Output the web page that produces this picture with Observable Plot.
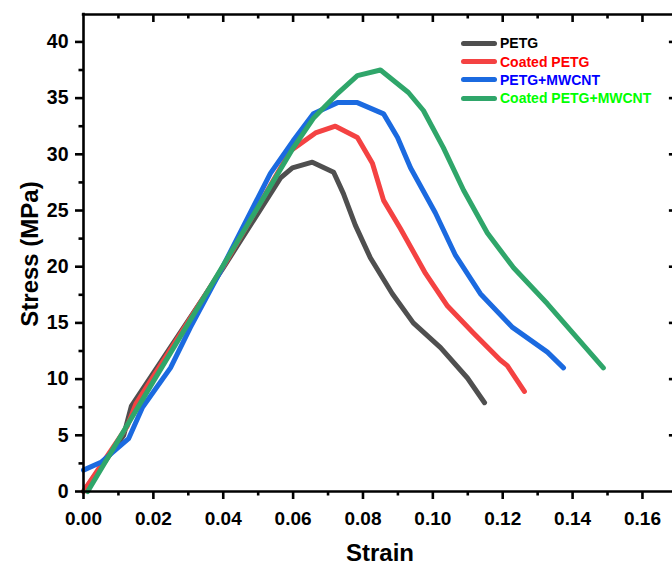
<!DOCTYPE html>
<html>
<head>
<meta charset="utf-8">
<script src="https://cdn.jsdelivr.net/npm/d3@7"></script>
<script src="https://cdn.jsdelivr.net/npm/@observablehq/plot@0.6"></script>
<style>
  body { margin: 0; background: #fff; }
  #wrap { position: relative; width: 672px; height: 565px; overflow: hidden; font-family: "Liberation Sans", Arial, sans-serif; font-weight: bold; }
  .title { position: absolute; font-size: 24px; font-weight: bold; color: #000; white-space: nowrap; }
  #legend { position: absolute; left: 461px; top: 34px; }
  .row { display: flex; align-items: center; height: 18.4px; }
  .sw { width: 36px; height: 5px; border-radius: 3px; margin-right: 3px; }
  .lab { font-size: 14px; font-weight: bold; line-height: 14px; }
</style>
</head>
<body>
<div id="wrap"></div>
<script>
// ---- data ----
const seriesNames = ["PETG", "Coated PETG", "PETG+MWCNT", "Coated PETG+MWCNT"];
const lineColors = ["#4f4f4f", "#f44242", "#1b6ae0", "#2fa66a"];
const textColors = ["#000000", "#ff0000", "#0000ff", "#00ff00"];

const strainPETG = [0, 0.0115, 0.0137, 0.0400, 0.0564, 0.0598, 0.0655, 0.0716, 0.0744, 0.0778, 0.0821, 0.0884, 0.0944, 0.1022, 0.1099, 0.1148];
const stressPETG = [0, 5.0, 7.6, 19.9, 27.9, 28.8, 29.3, 28.4, 26.5, 23.7, 20.8, 17.6, 15.0, 12.8, 10.1, 7.9];

const strainCoated = [0, 0.0125, 0.0150, 0.0400, 0.0592, 0.0664, 0.0721, 0.0784, 0.0827, 0.0859, 0.0907, 0.0979, 0.1042, 0.1116, 0.1193, 0.1213, 0.1262];
const stressCoated = [0, 5.8, 7.8, 20.0, 30.3, 31.9, 32.5, 31.5, 29.2, 25.9, 23.4, 19.4, 16.5, 14.1, 11.7, 11.2, 8.9];

const strainMWCNT = [0, 0.0050, 0.0129, 0.0169, 0.0249, 0.0306, 0.0392, 0.0535, 0.0600, 0.0658, 0.0727, 0.0784, 0.0859, 0.0899, 0.0936, 0.1007, 0.1065, 0.1136, 0.1228, 0.1328, 0.1374];
const stressMWCNT = [1.9, 2.6, 4.7, 7.5, 11.0, 14.6, 19.6, 28.3, 31.2, 33.6, 34.6, 34.6, 33.6, 31.5, 28.8, 24.8, 21.0, 17.6, 14.6, 12.4, 11.0];

const strainCoatedMWCNT = [0.0012, 0.0200, 0.0392, 0.0601, 0.0658, 0.0727, 0.0784, 0.0850, 0.0930, 0.0973, 0.1030, 0.1088, 0.1156, 0.1231, 0.1328, 0.1488];
const stressCoatedMWCNT = [0, 9.8, 19.7, 30.6, 33.2, 35.4, 37.0, 37.5, 35.5, 33.9, 30.6, 26.8, 23.0, 19.9, 16.7, 11.0];

const xMajorTicks = [0, 0.02, 0.04, 0.06, 0.08, 0.10, 0.12, 0.14, 0.16];
const xMinorTicks = [0.01, 0.03, 0.05, 0.07, 0.09, 0.11, 0.13, 0.15];
const yMajorTicks = [0, 5, 10, 15, 20, 25, 30, 35, 40];
const yMinorTicks = [2.5, 7.5, 12.5, 17.5, 22.5, 27.5, 32.5, 37.5];

const xLabel = "Strain";
const yLabel = "Stress (MPa)";

// ---- build table ----
const allX = [strainPETG, strainCoated, strainMWCNT, strainCoatedMWCNT];
const allY = [stressPETG, stressCoated, stressMWCNT, stressCoatedMWCNT];
const rows = [];
seriesNames.forEach((name, i) => {
  allX[i].forEach((x, j) => rows.push({series: name, strain: x, stress: allY[i][j]}));
});

// ---- layout ----
const W = 672, H = 565;
const mL = 83, mR = 0, mT = 14, mB = 74;
const xMax = 0.1686, yMax = 42.44, xFrame = 0.17;
const xpp = xMax / (W - mL - mR);   // strain per pixel
const ypp = yMax / (H - mT - mB);   // stress per pixel
const axisW = 2.6;

const tickStyle = {stroke: "#000", strokeWidth: axisW};

const plot = Plot.plot({
  width: W, height: H,
  marginLeft: mL, marginRight: mR, marginTop: mT, marginBottom: mB,
  x: {domain: [0, xMax], axis: null},
  y: {domain: [0, yMax], axis: null},
  color: {domain: seriesNames, range: lineColors},
  style: {fontFamily: "'Liberation Sans', Arial, sans-serif", fontWeight: "bold", background: "#fff", overflow: "hidden"},
  marks: [
    // data lines
    Plot.line(rows, {x: "strain", y: "stress", z: "series", stroke: "series",
      strokeWidth: 5, strokeLinejoin: "round", strokeLinecap: "round"}),
    // frame lines
    Plot.ruleY([0], {x1: -1.2 * xpp, x2: xMax, ...tickStyle}),
    Plot.ruleY([yMax], {x1: -1.2 * xpp, x2: xMax, ...tickStyle}),
    Plot.ruleX([0], {y1: -1.2 * ypp, y2: yMax + 1.2 * ypp, ...tickStyle}),
    // bottom ticks (outward)
    Plot.ruleX(xMajorTicks, {y1: 0, y2: -8 * ypp, ...tickStyle}),
    Plot.ruleX(xMinorTicks, {y1: 0, y2: -4.5 * ypp, ...tickStyle}),
    // top ticks (inward)
    Plot.ruleX(xMajorTicks.filter(d => d > 0), {y1: yMax, y2: yMax - 8 * ypp, ...tickStyle}),
    Plot.ruleX(xMinorTicks, {y1: yMax, y2: yMax - 4.5 * ypp, ...tickStyle}),
    // left ticks (outward)
    Plot.ruleY(yMajorTicks, {x1: 0, x2: -8 * xpp, ...tickStyle}),
    Plot.ruleY(yMinorTicks, {x1: 0, x2: -4.5 * xpp, ...tickStyle}),
    // right frame ticks (inward, mostly cropped)
    Plot.ruleY(yMajorTicks.filter(d => d > 0), {x1: xFrame - 8 * xpp, x2: xFrame, ...tickStyle}),
    // tick labels
    Plot.text(xMajorTicks, {x: d => d, y: 0, dy: 27, text: d => d3.format(".2f")(d),
      fontSize: 19, fontWeight: "bold", fill: "#000"}),
    Plot.text(yMajorTicks, {x: 0, y: d => d, dx: -15, text: d => String(d), textAnchor: "end",
      fontSize: 19.5, fontWeight: "bold", fill: "#000"})
  ]
});

const wrap = document.getElementById("wrap");
wrap.appendChild(plot);

// axis titles
const xt = document.createElement("div");
xt.className = "title";
xt.textContent = xLabel;
xt.style.left = "380px"; xt.style.top = "553px";
xt.style.transform = "translate(-50%, -50%)";
wrap.appendChild(xt);

const yt = document.createElement("div");
yt.className = "title";
yt.textContent = yLabel;
yt.style.left = "30px"; yt.style.top = "254px";
yt.style.transform = "translate(-50%, -50%) rotate(-90deg)";
wrap.appendChild(yt);

// legend
const lg = document.createElement("div");
lg.id = "legend";
seriesNames.forEach((name, i) => {
  const r = document.createElement("div"); r.className = "row";
  const s = document.createElement("div"); s.className = "sw"; s.style.background = lineColors[i];
  const t = document.createElement("span"); t.className = "lab"; t.style.color = textColors[i]; t.textContent = name;
  r.appendChild(s); r.appendChild(t); lg.appendChild(r);
});
wrap.appendChild(lg);
</script>
</body>
</html>
